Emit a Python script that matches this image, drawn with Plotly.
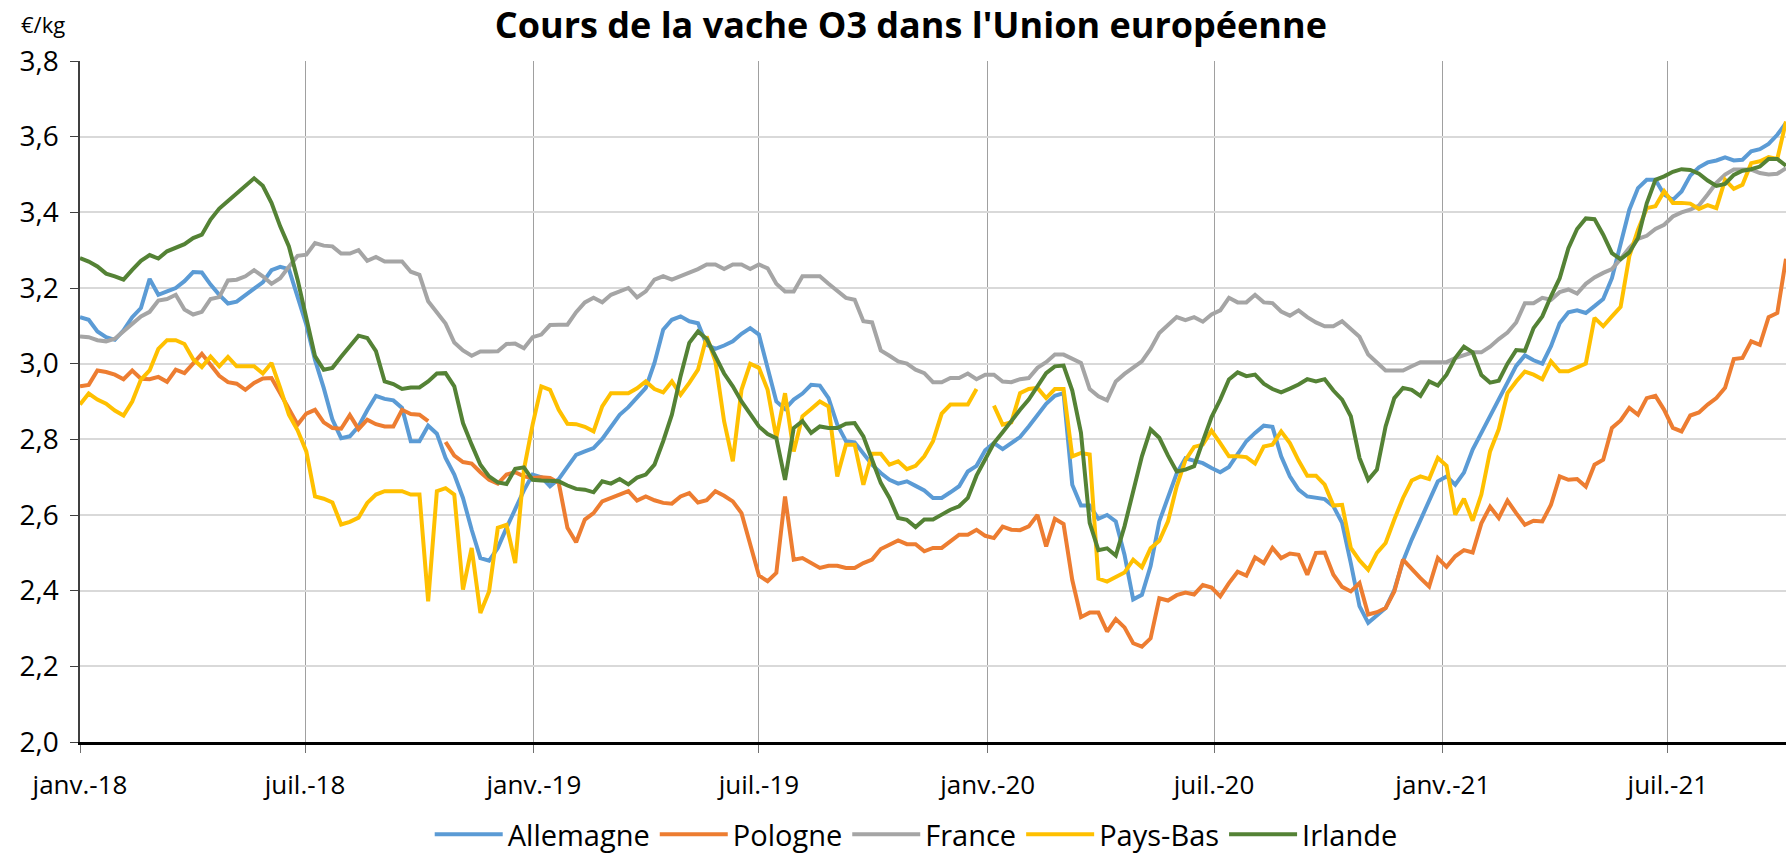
import datetime as dt
import plotly.graph_objects as go

# ---------------- data (weekly, from 1 Jan 2018) ----------------
start_date = "2018-01-01"
n_weeks = 197

allemagne = [3.123, 3.116, 3.085, 3.07, 3.063, 3.088, 3.123, 3.147, 3.224, 3.182,
             3.191, 3.20, 3.218, 3.242, 3.241, 3.209, 3.182, 3.159, 3.164, 3.18,
             3.198, 3.215, 3.247, 3.256, 3.25, 3.178, 3.103, 3.01, 2.936, 2.852,
             2.803, 2.808, 2.834, 2.877, 2.915, 2.907, 2.903, 2.883, 2.795, 2.795,
             2.836, 2.815, 2.751, 2.707, 2.645, 2.561, 2.486, 2.479, 2.513, 2.566,
             2.616, 2.665, 2.707, 2.70, 2.676, 2.695, 2.727, 2.759, 2.768, 2.777,
             2.801, 2.834, 2.865, 2.885, 2.91, 2.936, 3.002, 3.09, 3.116, 3.125,
             3.112, 3.107, 3.05, 3.039, 3.048, 3.059, 3.079, 3.094, 3.077, 2.989,
             2.90, 2.88, 2.905, 2.921, 2.944, 2.942, 2.909, 2.839, 2.795, 2.792,
             2.764, 2.733, 2.711, 2.693, 2.683, 2.689, 2.677, 2.665, 2.645, 2.645,
             2.66, 2.676, 2.715, 2.73, 2.771, 2.79, 2.774, 2.79, 2.806, 2.834,
             2.863, 2.894, 2.915, 2.922, 2.68, 2.625, 2.625, 2.59, 2.60, 2.583,
             2.495, 2.377, 2.389, 2.465, 2.583, 2.65, 2.71, 2.75, 2.743, 2.737,
             2.724, 2.713, 2.727, 2.761, 2.795, 2.817, 2.836, 2.833, 2.755, 2.702,
             2.667, 2.649, 2.645, 2.642, 2.623, 2.579, 2.473, 2.359, 2.315, 2.333,
             2.354, 2.402, 2.478, 2.535, 2.588, 2.64, 2.689, 2.702, 2.68, 2.712,
             2.773, 2.817, 2.861, 2.905, 2.953, 2.994, 3.022, 3.009, 3.0, 3.046,
             3.107, 3.136, 3.141, 3.134, 3.152, 3.171, 3.226, 3.315, 3.407, 3.464,
             3.486, 3.486, 3.447, 3.433, 3.455, 3.497, 3.519, 3.532, 3.537, 3.545,
             3.537, 3.539, 3.561, 3.567, 3.581, 3.605, 3.636]

pologne = [2.94, 2.944, 2.982, 2.978, 2.971, 2.959, 2.982, 2.96, 2.959, 2.965,
           2.952, 2.984, 2.975, 3.0, 3.026, 2.997, 2.968, 2.951, 2.947, 2.931,
           2.949, 2.961, 2.962, 2.922, 2.88, 2.839, 2.868, 2.878, 2.845, 2.83,
           2.828, 2.864, 2.827, 2.852, 2.84, 2.834, 2.834, 2.878, 2.867, 2.865,
           2.848, None, 2.793, 2.757, 2.74, 2.736, 2.713, 2.693, 2.683, 2.707,
           2.713, 2.702, 2.698, 2.70, 2.698, 2.685, 2.566, 2.528, 2.588, 2.605,
           2.636, 2.645, 2.654, 2.663, 2.638, 2.649, 2.639, 2.632, 2.63, 2.649,
           2.658, 2.633, 2.639, 2.663, 2.651, 2.636, 2.605, 2.521, 2.44, 2.425,
           2.447, 2.649, 2.482, 2.486, 2.473, 2.46, 2.466, 2.466, 2.46, 2.46,
           2.473, 2.482, 2.51, 2.523, 2.533, 2.523, 2.523, 2.504, 2.513, 2.513,
           2.53, 2.548, 2.548, 2.561, 2.545, 2.539, 2.569, 2.561, 2.56, 2.57,
           2.60, 2.517, 2.59, 2.576, 2.428, 2.33, 2.342, 2.342, 2.292, 2.325,
           2.303, 2.261, 2.252, 2.274, 2.38, 2.374, 2.388, 2.395, 2.39, 2.415,
           2.408, 2.385, 2.42, 2.45, 2.44, 2.488, 2.473, 2.513, 2.486, 2.498,
           2.495, 2.442, 2.50, 2.501, 2.442, 2.41, 2.398, 2.42, 2.337, 2.343,
           2.354, 2.398, 2.482, 2.457, 2.433, 2.411, 2.486, 2.463, 2.491, 2.507,
           2.501, 2.578, 2.622, 2.592, 2.638, 2.605, 2.574, 2.585, 2.583, 2.627,
           2.702, 2.693, 2.695, 2.675, 2.733, 2.746, 2.83, 2.85, 2.883, 2.865,
           2.909, 2.915, 2.878, 2.83, 2.821, 2.863, 2.871, 2.892, 2.909, 2.936,
           3.012, 3.015, 3.059, 3.05, 3.123, 3.134, 3.277]

france = [3.072, 3.07, 3.062, 3.059, 3.066, 3.085, 3.105, 3.125, 3.137, 3.167,
          3.171, 3.182, 3.143, 3.13, 3.137, 3.171, 3.176, 3.22, 3.222, 3.231,
          3.247, 3.231, 3.211, 3.226, 3.256, 3.285, 3.288, 3.319, 3.312, 3.31,
          3.291, 3.291, 3.30, 3.272, 3.282, 3.27, 3.27, 3.27, 3.243, 3.235,
          3.165, 3.134, 3.106, 3.056, 3.035, 3.021, 3.032, 3.032, 3.033, 3.052,
          3.053, 3.041, 3.07, 3.077, 3.102, 3.103, 3.103, 3.136, 3.162, 3.174,
          3.162, 3.182, 3.191, 3.20, 3.175, 3.191, 3.222, 3.231, 3.222, 3.231,
          3.24, 3.25, 3.262, 3.262, 3.25, 3.262, 3.262, 3.25, 3.262, 3.252,
          3.211, 3.191, 3.191, 3.231, 3.231, 3.231, 3.211, 3.191, 3.174, 3.169,
          3.112, 3.109, 3.035, 3.021, 3.006, 3.0, 2.984, 2.975, 2.951, 2.951,
          2.962, 2.962, 2.974, 2.959, 2.971, 2.971, 2.953, 2.951, 2.959, 2.962,
          2.989, 3.004, 3.024, 3.024, 3.012, 3.002, 2.933, 2.914, 2.903, 2.953,
          2.973, 2.989, 3.006, 3.039, 3.081, 3.102, 3.123, 3.115, 3.123, 3.111,
          3.13, 3.141, 3.174, 3.162, 3.162, 3.182, 3.162, 3.16, 3.138, 3.127,
          3.141, 3.123, 3.109, 3.099, 3.099, 3.112, 3.092, 3.071, 3.024, 3.002,
          2.982, 2.982, 2.982, 2.993, 3.004, 3.004, 3.004, 3.004, 3.015, 3.022,
          3.03, 3.03, 3.045, 3.065, 3.082, 3.109, 3.16, 3.16, 3.174, 3.169,
          3.189, 3.196, 3.185, 3.211, 3.228, 3.24, 3.25, 3.277, 3.306, 3.33,
          3.338, 3.356, 3.367, 3.389, 3.40, 3.407, 3.418, 3.447, 3.478, 3.50,
          3.513, 3.513, 3.513, 3.504, 3.50, 3.502, 3.517]

pays_bas = [2.892, 2.921, 2.905, 2.894, 2.876, 2.863, 2.90, 2.958, 2.982, 3.039,
            3.062, 3.062, 3.052, 3.012, 2.991, 3.019, 2.993, 3.018, 2.993, 2.993,
            2.993, 2.974, 3.002, 2.936, 2.865, 2.824, 2.768, 2.649, 2.643, 2.633,
            2.575, 2.582, 2.593, 2.632, 2.654, 2.663, 2.663, 2.663, 2.654, 2.654,
            2.372, 2.663, 2.671, 2.654, 2.403, 2.513, 2.341, 2.398, 2.566, 2.574,
            2.473, 2.72, 2.839, 2.94, 2.931, 2.878, 2.841, 2.84, 2.833, 2.821,
            2.887, 2.922, 2.922, 2.922, 2.935, 2.953, 2.933, 2.924, 2.953, 2.918,
            2.949, 2.984, 3.072, 3.006, 2.848, 2.742, 2.931, 3.0, 2.989, 2.931,
            2.804, 2.922, 2.768, 2.861, 2.88, 2.90, 2.887, 2.702, 2.786, 2.786,
            2.68, 2.762, 2.762, 2.733, 2.742, 2.721, 2.73, 2.755, 2.795, 2.868,
            2.892, 2.892, 2.892, 2.933, None, 2.889, 2.839, 2.845, 2.922, 2.933,
            2.936, 2.909, 2.933, 2.933, 2.755, 2.764, 2.76, 2.432, 2.424, 2.436,
            2.448, 2.482, 2.462, 2.512, 2.532, 2.583, 2.676, 2.745, 2.78, 2.786,
            2.823, 2.79, 2.755, 2.755, 2.753, 2.736, 2.781, 2.786, 2.821, 2.79,
            2.744, 2.704, 2.704, 2.68, 2.625, 2.627, 2.513, 2.48, 2.455, 2.50,
            2.526, 2.588, 2.645, 2.691, 2.702, 2.695, 2.751, 2.73, 2.601, 2.643,
            2.585, 2.654, 2.768, 2.827, 2.922, 2.953, 2.979, 2.971, 2.959, 3.006,
            2.98, 2.98, 2.989, 3.0, 3.121, 3.099, 3.125, 3.15, 3.284, 3.354,
            3.411, 3.416, 3.456, 3.425, 3.425, 3.423, 3.409, 3.419, 3.411, 3.486,
            3.462, 3.473, 3.53, 3.535, 3.546, 3.541, 3.64]

irlande = [3.279, 3.27, 3.257, 3.238, 3.231, 3.222, 3.248, 3.272, 3.287, 3.278,
           3.297, 3.306, 3.316, 3.332, 3.341, 3.381, 3.41, 3.43, 3.45, 3.47,
           3.49, 3.47, 3.425, 3.363, 3.31, 3.222, 3.125, 3.02, 2.984, 2.989,
           3.018, 3.045, 3.074, 3.068, 3.033, 2.953, 2.946, 2.933, 2.937, 2.937,
           2.953, 2.974, 2.975, 2.94, 2.843, 2.786, 2.733, 2.702, 2.686, 2.682,
           2.722, 2.726, 2.693, 2.691, 2.691, 2.689, 2.678, 2.669, 2.667, 2.66,
           2.689, 2.683, 2.695, 2.681, 2.699, 2.707, 2.733, 2.795, 2.865, 2.967,
           3.055, 3.085, 3.065, 3.019, 2.974, 2.94, 2.90, 2.867, 2.834, 2.814,
           2.803, 2.693, 2.83, 2.848, 2.817, 2.834, 2.83, 2.83, 2.841, 2.843,
           2.808, 2.746, 2.685, 2.645, 2.592, 2.587, 2.568, 2.588, 2.588, 2.601,
           2.614, 2.623, 2.645, 2.704, 2.746, 2.79, 2.819, 2.85, 2.878, 2.905,
           2.942, 2.975, 2.993, 2.995, 2.929, 2.817, 2.579, 2.507, 2.512, 2.493,
           2.57, 2.658, 2.755, 2.826, 2.804, 2.757, 2.715, 2.72, 2.729, 2.795,
           2.859, 2.905, 2.958, 2.977, 2.967, 2.971, 2.947, 2.933, 2.924, 2.934,
           2.945, 2.959, 2.953, 2.959, 2.929, 2.905, 2.861, 2.751, 2.693, 2.72,
           2.834, 2.909, 2.936, 2.931, 2.915, 2.953, 2.942, 2.971, 3.015, 3.045,
           3.03, 2.97, 2.95, 2.955, 3.0, 3.036, 3.034, 3.094, 3.125, 3.178,
           3.226, 3.305, 3.356, 3.384, 3.382, 3.341, 3.292, 3.276, 3.294, 3.332,
           3.424, 3.486, 3.495, 3.507, 3.514, 3.512, 3.502, 3.484, 3.47, 3.475,
           3.499, 3.51, 3.514, 3.521, 3.541, 3.541, 3.523]

tick_dates = ["2018-01-01", "2018-07-01", "2019-01-01", "2019-07-01",
              "2020-01-01", "2020-07-01", "2021-01-01", "2021-07-01"]
tick_labels = ["janv.-18", "juil.-18", "janv.-19", "juil.-19",
               "janv.-20", "juil.-20", "janv.-21", "juil.-21"]

series_names = ["Allemagne", "Pologne", "France", "Pays-Bas", "Irlande"]
series_values = [allemagne, pologne, france, pays_bas, irlande]
series_colors = ["#5B9BD5", "#ED7D31", "#A5A5A5", "#FFC000", "#548235"]

# ---------------- figure ----------------
d0 = dt.date.fromisoformat(start_date)
dates = [d0 + dt.timedelta(days=7 * i) for i in range(n_weeks)]

FONT = "Open Sans"
fig = go.Figure()
for name, vals, col in zip(series_names, series_values, series_colors):
    assert len(vals) == n_weeks, (name, len(vals))
    fig.add_trace(go.Scatter(
        x=dates, y=vals, name=name, mode="lines",
        line=dict(color=col, width=4), connectgaps=False,
    ))

fig.update_layout(
    width=1786, height=860,
    paper_bgcolor="white", plot_bgcolor="white",
    margin=dict(l=80, r=0, t=61, b=118, autoexpand=False),
    font=dict(family=FONT, size=22, color="#000000"),
    separators=",.",
    title=dict(text="<b>Cours de la vache O3 dans l'Union européenne</b>",
               x=0.51, xanchor="center", xref="container",
               y=1 - 25 / 860, yanchor="middle", yref="container",
               font=dict(family=FONT, size=36, color="#000000")),
    legend=dict(orientation="h", x=0.513, xanchor="center", xref="container",
                y=-0.008, yanchor="bottom", yref="container",
                font=dict(family=FONT, size=29), itemwidth=68,
                bgcolor="rgba(0,0,0,0)"),
    showlegend=True,
)

fig.update_xaxes(
    type="date", automargin=False,
    range=[dates[0], dates[-1]],
    tickvals=tick_dates, ticktext=tick_labels,
    showgrid=True, gridcolor="#A0A0A0", gridwidth=1,
    showline=True, linecolor="#000000", linewidth=2.5,
    ticks="outside", ticklen=8, tickcolor="#707070", tickwidth=1,
    tickfont=dict(family=FONT, size=26),
    ticklabelstandoff=10,
    zeroline=False,
)
fig.update_yaxes(
    automargin=False,
    range=[2.0, 3.8], dtick=0.2, tick0=2.0, tickformat=".1f",
    showgrid=True, gridcolor="#D9D9D9", gridwidth=2,
    showline=True, linecolor="#404040", linewidth=1.5,
    ticks="outside", ticklen=8, tickcolor="#404040",
    tickfont=dict(family=FONT, size=28),
    ticklabelstandoff=6,
    zeroline=False,
)

fig.add_annotation(text="€/kg", xref="paper", yref="paper",
                   x=-0.036, y=1 + 37 / 681, xanchor="left", yanchor="middle",
                   showarrow=False, font=dict(family=FONT, size=22))

# remove the browser's default 8px page margin so the figure fills the window
fig.write_html("out.html",
               config={"displayModeBar": False},
               post_script="document.body.style.margin='0px';document.body.style.overflow='hidden';")
